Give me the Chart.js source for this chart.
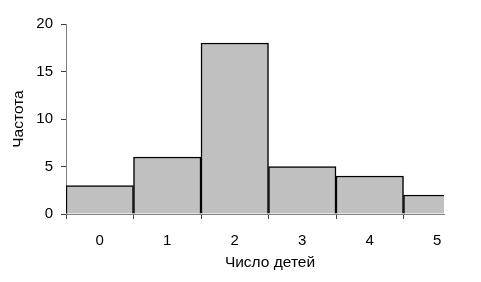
<!DOCTYPE html>
<html>
<head>
<meta charset="utf-8">
<script src="https://cdn.jsdelivr.net/npm/chart.js@4/dist/chart.umd.min.js"></script>
<style>
html,body{margin:0;padding:0;background:#fff;overflow:hidden;}
#wrap{position:relative;width:481px;height:282px;}
</style>
</head>
<body>
<div id="wrap"><canvas id="c" width="481" height="282"></canvas></div>
<script>
const categories = [0, 1, 2, 3, 4, 5];
const frequencies = [3, 6, 18, 5, 4, 2];
const yTicks = [0, 5, 10, 15, 20];
const xTitle = 'Число детей';
const yTitle = 'Частота';

const tickFont = {family: 'Liberation Sans, Arial, sans-serif', size: 15};
const titleFont = {family: 'Liberation Sans, Arial, sans-serif', size: 15.5};

// draws the x-axis title slightly right of the plot centre, as in the reference
const xTitlePlugin = {
  id: 'xTitle',
  afterDraw(chart) {
    const ctx = chart.ctx;
    const a = chart.chartArea;
    ctx.save();
    ctx.font = titleFont.size + 'px ' + titleFont.family;
    ctx.fillStyle = '#000';
    ctx.textAlign = 'center';
    ctx.textBaseline = 'middle';
    ctx.fillText(xTitle, (a.left + a.right) / 2 + 15, a.bottom + 49);
    ctx.restore();
  }
};

new Chart(document.getElementById('c'), {
  type: 'bar',
  data: {
    datasets: [{
      data: categories.map((c, i) => ({x: c, y: frequencies[i]})),
      backgroundColor: '#c0c0c0',
      borderColor: '#000000',
      borderWidth: 1.5,
      barPercentage: 1,
      categoryPercentage: 1
    }]
  },
  plugins: [xTitlePlugin],
  options: {
    responsive: false,
    animation: false,
    devicePixelRatio: 1,
    layout: {padding: {left: 0, top: 24, right: 37, bottom: 0}},
    plugins: {legend: {display: false}, tooltip: {enabled: false}},
    scales: {
      x: {
        type: 'linear',
        offset: false,
        min: -0.5,
        max: 5.1,
        afterBuildTicks: s => { s.ticks = categories.map(v => ({value: v})); },
        afterFit: s => { s.height = 68; },
        ticks: {color: '#000', font: tickFont, padding: 13, maxRotation: 0, autoSkip: false,
          callback: v => String(v)},
        grid: {display: true, offset: true, drawOnChartArea: false, drawTicks: true, tickLength: 5, lineWidth: 1, tickWidth: 1, color: '#404040', tickColor: '#404040'},
        border: {display: true, color: '#808080', width: 1},
        title: {display: false}
      },
      y: {
        min: 0,
        max: 20,
        afterBuildTicks: s => { s.ticks = yTicks.map(v => ({value: v})); },
        afterFit: s => { s.width = 66; },
        ticks: {color: '#000', font: tickFont, padding: 8},
        grid: {display: true, drawOnChartArea: false, drawTicks: true, tickLength: 5, lineWidth: 1, tickWidth: 1, color: '#404040', tickColor: '#404040'},
        border: {display: true, color: '#808080', width: 1},
        title: {display: true, text: yTitle, color: '#000', font: titleFont, padding: {top: 9, bottom: 0}}
      }
    }
  }
});
</script>
</body>
</html>
